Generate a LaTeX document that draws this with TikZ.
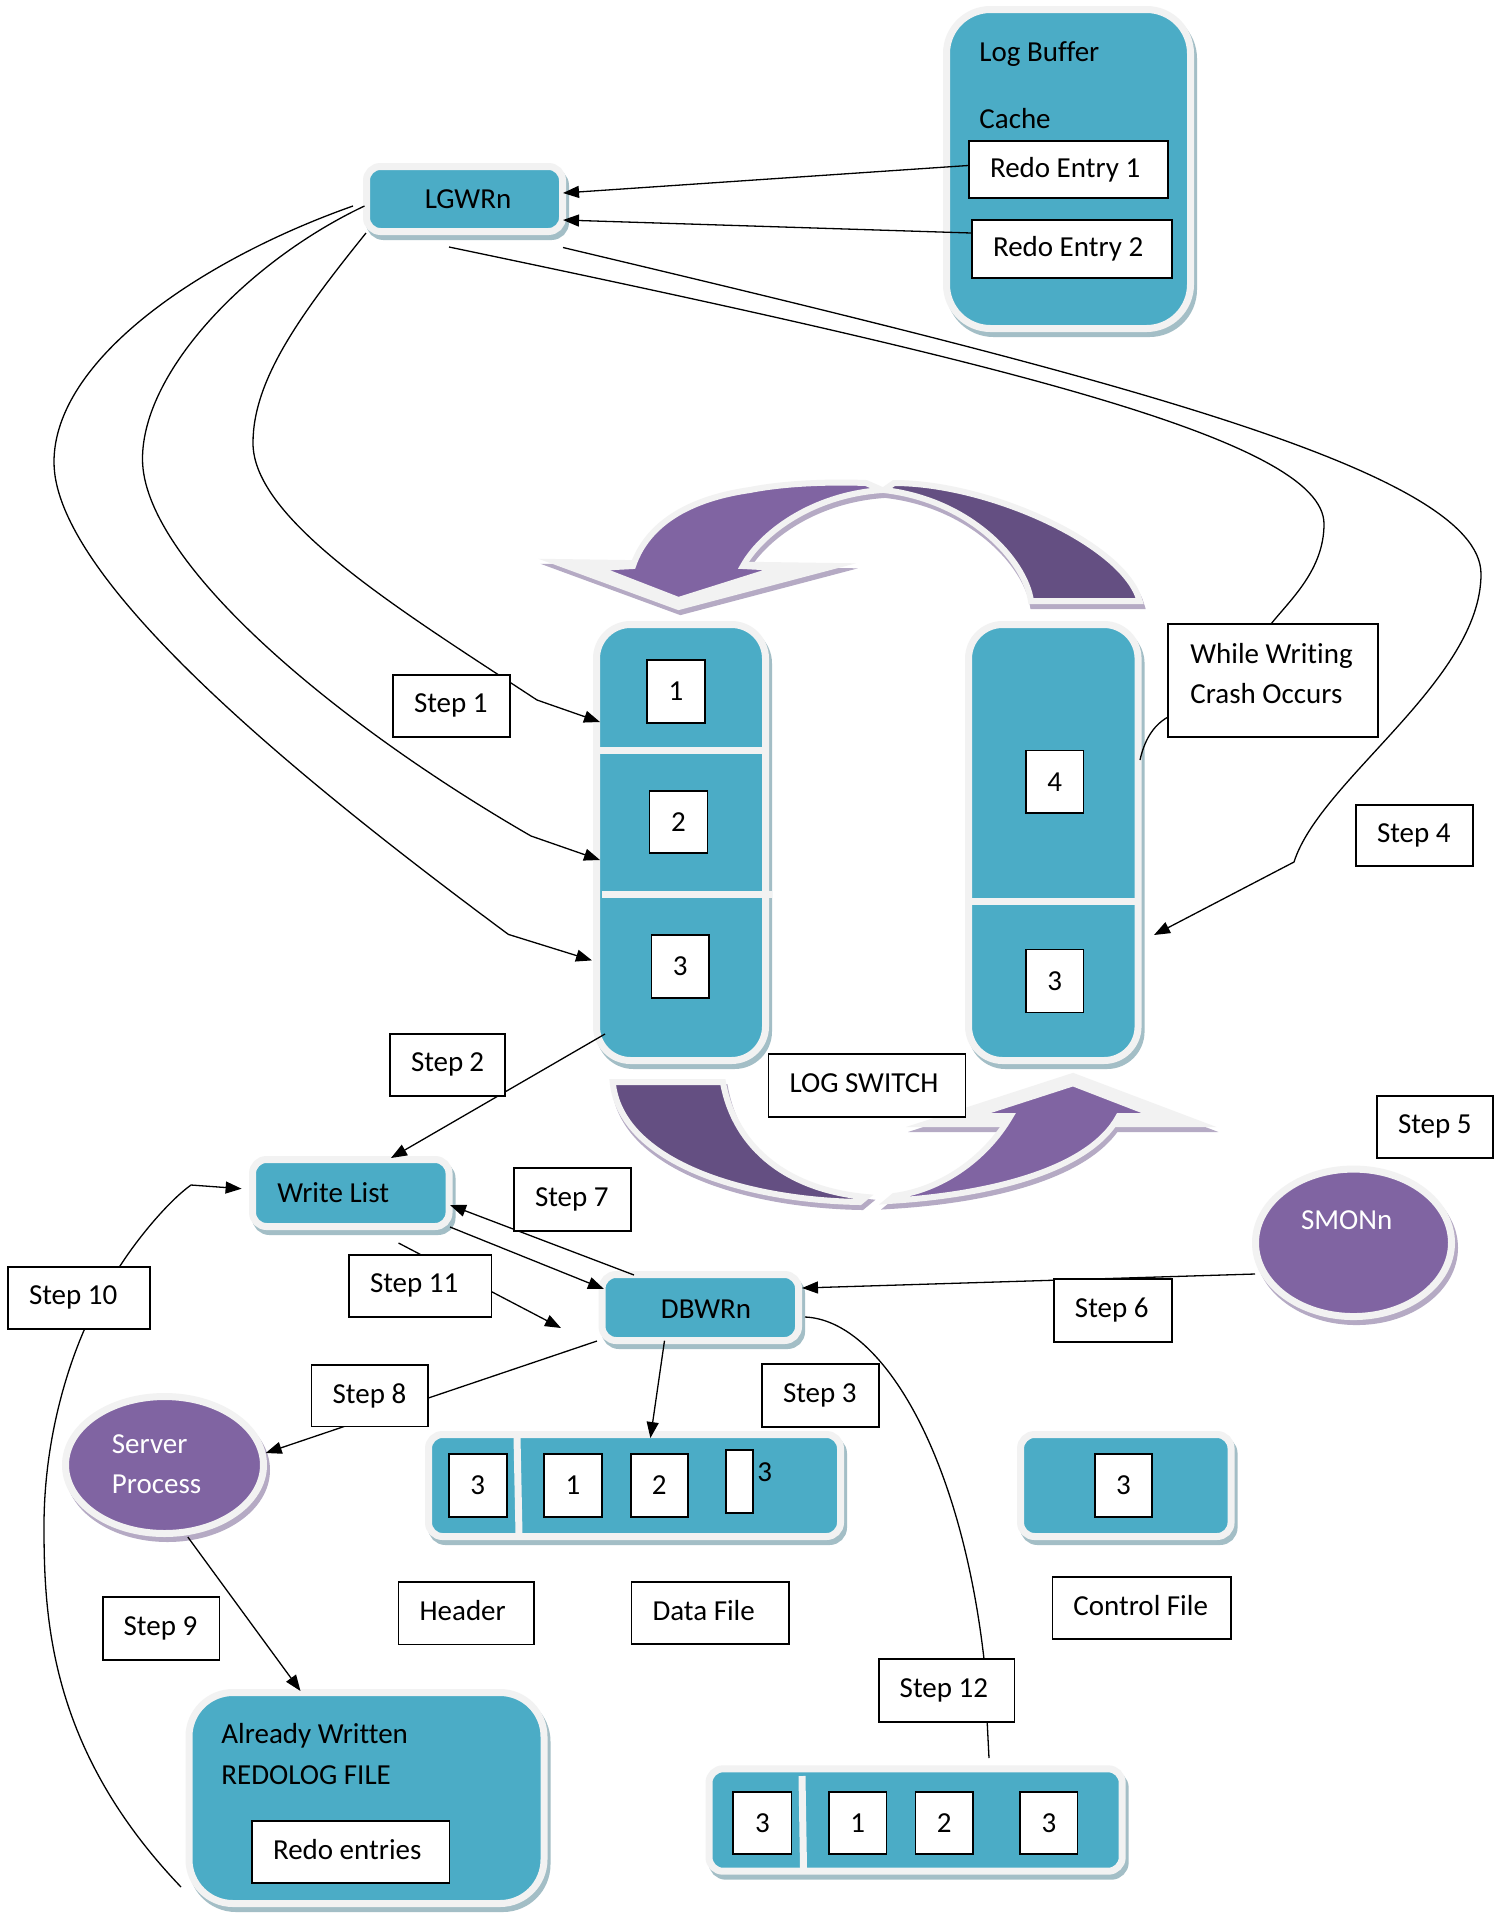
\documentclass[tikz,border=0pt]{standalone}
\usepackage{fontspec}
\setmainfont{Carlito}[Ligatures=NoCommon]
\usetikzlibrary{arrows.meta,shapes.geometric}
\definecolor{tealc}{HTML}{4BACC6}
\definecolor{lightb}{HTML}{F2F2F2}
\definecolor{purl}{HTML}{8064A2}
\definecolor{purd}{HTML}{644F82}
\definecolor{shadt}{HTML}{A3BEC6}
\definecolor{shadp}{HTML}{B5AAC4}
\newcommand\fs{\fontsize{14.5pt}{17pt}\selectfont}
\newcommand\lf[2]{\hbox to #1pt{\vphantom{Ag}#2\hfil}}
\begin{document}
\begin{tikzpicture}[x=0.5pt,y=-0.5pt, every node/.append style={font=\fs},
  lbl/.style={draw=black, line width=0.85pt, fill=white, inner xsep=10.5pt, inner ysep=0pt},
  numbox/.style={draw=black, line width=0.85pt, fill=white, inner sep=0pt},
  tealbox/.style={draw=lightb, line width=3.5pt, fill=tealc, inner sep=0pt,
    preaction={draw=shadt, fill=shadt, line width=3.5pt, transform canvas={shift={(1.5pt,-2.5pt)}}}},
  purpell/.style={ellipse, draw=lightb, line width=3.5pt, fill=purl, inner sep=0pt,
    preaction={draw=shadp, fill=shadp, line width=3.5pt, transform canvas={shift={(1.5pt,-2.5pt)}}}},
  pshadow/.style={draw=shadp, fill=shadp, line width=3pt, transform canvas={shift={(1pt,-2.5pt)}}},
  pbody/.style={draw=lightb, line width=3pt},
  arr/.style={line width=0.65pt, -{Triangle[length=8pt,width=6pt]}},
  conn/.style={line width=0.65pt},
  sep/.style={draw=lightb, line width=3.5pt},
  wtxt/.style={text=white, inner sep=0pt},
  plain/.style={inner sep=0pt},
  headTL/.style={insert path={(556,562) -- (834,566) -- (678.5,607) -- cycle}},
  arrTL/.style={insert path={(633,566) -- (596,568) -- (678.5,600) -- (780,568) -- (743,566)
    .. controls (760,535) and (810,495) .. (882,490) -- (866,483)
    .. controls (840,482) and (790,482) .. (750,490)
    .. controls (680,500) and (645,530) .. (633,566) -- cycle}},
  arrTR/.style={insert path={(884,490) -- (894,483)
    .. controls (990,483) and (1125,545) .. (1139.6,601) -- (1031,601)
    .. controls (1025,560) and (970,500) .. (884,490) -- cycle}},
  arrBL/.style={insert path={(612.7,1082) -- (722.9,1082)
    .. controls (735,1150) and (790,1190) .. (866,1197) -- (860,1202)
    .. controls (740,1200) and (620,1160) .. (612.7,1082) -- cycle}},
  headBR/.style={insert path={(925,1124) -- (1073,1076) -- (1200,1124) -- cycle}},
  arrBR/.style={insert path={(888,1201)
    .. controls (990,1195) and (1090,1170) .. (1118.8,1116) -- (1157.6,1116) -- (1073,1083.3)
    -- (971.8,1116) -- (1010.6,1116)
    .. controls (985,1160) and (940,1190) .. (894,1196) -- cycle}}
]
\useasboundingbox (0,0) rectangle (1502,1913);
\fill[white] (0,0) rectangle (1502,1913);

% ---------- purple switch arrows ----------
\path[pshadow, headTL];
\path[pshadow, arrTL];
\path[pshadow, arrTR];
\path[pshadow, arrBL];
\path[pshadow, headBR];
\path[pshadow, arrBR];
\path[pbody, fill=lightb, headTL];
\path[pbody, fill=purl, arrTL];
\path[pbody, fill=purd, arrTR];
\path[pbody, fill=purd, arrBL];
\path[pbody, fill=lightb, headBR];
\path[pbody, fill=purl, arrBR];

% ---------- teal shapes ----------
\node[tealbox, rounded corners=22pt, minimum width=122pt, minimum height=159.5pt] (logbuf) at (1068.5,169) {};
\node[plain, anchor=base west] (lbtxt) at (979,61.7) {Log Buffer};
\node[plain, anchor=base west] (cachetxt) at (979,128.3) {Cache};
\node[lbl, minimum height=28.5pt] (re1) at (1068.5,169.5) {\lf{78.5}{Redo Entry 1}};
\node[lbl, minimum height=29pt] (re2) at (1072,249) {\lf{79}{Redo Entry 2}};

\node[tealbox, rounded corners=7pt, minimum width=98pt, minimum height=32.5pt] (lgwr) at (464.5,199) {};
\node[plain] (lgtxt) at (468,199) {LGWRn};

\node[tealbox, rounded corners=17pt, minimum width=84.5pt, minimum height=218pt] (lcol) at (681,842.5) {};
\draw[sep] (600,750.5) -- (762,750.5);
\draw[sep] (602,894.5) -- (772,894.5);
\node[numbox, minimum width=29pt, minimum height=31.5pt] (l1) at (676,691.5) {1};
\node[numbox, minimum width=29pt, minimum height=31pt] (l2) at (678.5,822) {2};
\node[numbox, minimum width=28.7pt, minimum height=31.5pt] (l3) at (680.3,966.5) {3};

\node[tealbox, rounded corners=17pt, minimum width=84.75pt, minimum height=218pt] (rcol) at (1053.3,842.5) {};
\draw[sep] (972,901.5) -- (1134.6,901.5);
\node[numbox, minimum width=28.8pt, minimum height=31.1pt] (r4) at (1054.8,781.7) {4};
\node[numbox, minimum width=28.8pt, minimum height=31.5pt] (r3) at (1054.8,981.1) {3};

\node[tealbox, rounded corners=7pt, minimum width=98.25pt, minimum height=33.5pt] (wlist) at (350.8,1193) {};
\node[plain, anchor=base west] (wltxt) at (277,1202) {Write List};

\node[tealbox, rounded corners=7pt, minimum width=98.25pt, minimum height=33pt] (dbwr) at (700.3,1307.5) {};
\node[plain] (dbtxt) at (706,1309) {DBWRn};

\node[purpell, minimum width=99pt, minimum height=68.5pt] (server) at (164.5,1465) {};
\node[wtxt, anchor=base west] (srvtxt1) at (111.5,1453.9) {Server};
\node[wtxt, anchor=base west] (srvtxt2) at (111.5,1493.7) {Process};

\node[purpell, minimum width=98pt, minimum height=73.75pt] (smon) at (1353.5,1242.8) {};
\node[wtxt, anchor=base] (smtxt) at (1346.7,1229.3) {SMONn};

\node[tealbox, rounded corners=22pt, minimum width=177.5pt, minimum height=105.5pt] (already) at (366.5,1798) {};
\node[plain, anchor=base west] (aw1) at (221,1743.7) {Already Written};
\node[plain, anchor=base west] (aw2) at (221,1784.3) {REDOLOG FILE};
\node[lbl, minimum height=30.85pt] (redoent) at (350.8,1851.9) {\lf{77.8}{Redo entries}};

\node[tealbox, rounded corners=7pt, minimum width=206pt, minimum height=51pt] (drow) at (634.5,1485.5) {};
\draw[sep] (517,1437) -- (519,1534);
\node[numbox, minimum width=28.85pt, minimum height=31.35pt] (d3) at (477.8,1485.3) {3};
\node[numbox, minimum width=29pt, minimum height=31.35pt] (d1) at (573,1485.3) {1};
\node[numbox, minimum width=28.5pt, minimum height=31.35pt] (d2) at (659.2,1485.3) {2};
\node[numbox, minimum width=13.65pt, minimum height=31.35pt] (dn) at (739.4,1481.3) {};
\node[plain, anchor=base west] (dn3) at (757,1481) {3};

\node[tealbox, rounded corners=7pt, minimum width=105.25pt, minimum height=51pt] (crow) at (1125.8,1485.5) {};
\node[numbox, minimum width=28.5pt, minimum height=31.35pt] (c3) at (1123.5,1485.3) {3};

\node[tealbox, rounded corners=7pt, minimum width=206.6pt, minimum height=51.2pt] (brow) at (915.6,1820) {};
\draw[sep] (802,1776) -- (803.5,1868);
\node[numbox, minimum width=29.1pt, minimum height=31.3pt] (b3a) at (762.4,1823) {3};
\node[numbox, minimum width=28.85pt, minimum height=31.3pt] (b1) at (857.7,1823) {1};
\node[numbox, minimum width=28.6pt, minimum height=31.3pt] (b2) at (944.2,1823) {2};
\node[numbox, minimum width=28.6pt, minimum height=31.3pt] (b3b) at (1048.9,1823) {3};

% ---------- connector end points ----------
\coordinate (lgin1) at (563,193);
\coordinate (lgin2) at (563,220);
\coordinate (cA) at (353,206);
\coordinate (cB) at (364.5,206);
\coordinate (cC) at (366,233);
\coordinate (t1) at (600,722);
\coordinate (t2) at (600,860);
\coordinate (t3) at (592,960.4);
\coordinate (dS) at (449,247);
\coordinate (dE) at (1271,624);
\coordinate (eS) at (563,247.5);
\coordinate (eT) at (1154,935);
\coordinate (wwa) at (1168,717);
\coordinate (wwb) at (1140,760);
\coordinate (s2a) at (605,1034);
\coordinate (s2b) at (391,1158);
\coordinate (wlout) at (450,1227);
\coordinate (dbin) at (604,1289);
\coordinate (dbtop) at (634,1275);
\coordinate (wlin) at (450,1205);
\coordinate (wlbot) at (398.5,1243);
\coordinate (s11e) at (561,1328);
\coordinate (awleft) at (181,1887);
\coordinate (wlwest) at (241.6,1188.7);
\coordinate (dbsw) at (597,1341);
\coordinate (srvin) at (265.7,1453);
\coordinate (srvout) at (187.8,1537);
\coordinate (awtop) at (300.5,1691);
\coordinate (dbbot) at (664.5,1340.7);
\coordinate (drowtop) at (650.4,1438);
\coordinate (dbeast) at (805,1317);
\coordinate (browtop) at (989,1758);
\coordinate (smonw) at (1255,1274);
\coordinate (dbright) at (802,1288);

% ---------- connectors ----------
\draw[arr] ([yshift=2pt]re1.west) -- (lgin1);
\draw[arr] ([yshift=8pt]re2.west) -- (lgin2);
\draw[arr] (cC) .. controls (300,315) and (253,380) .. (253,443)
  .. controls (253,520) and (400,610) .. (537,700) -- (t1);
\draw[arr] (cB) .. controls (250,260) and (142.5,370) .. (142.5,459)
  .. controls (142.5,560) and (330,720) .. (531,836) -- (t2);
\draw[arr] (cA) .. controls (200,260) and (54,360) .. (54,462)
  .. controls (54,580) and (300,780) .. (508.4,934.4) -- (t3);
\draw[conn] (dS) .. controls (1000,362) and (1324,440) .. (1324,524)
  .. controls (1324,570) and (1290,600) .. (dE);
\draw[arr] (eS) .. controls (1100,375) and (1481,470) .. (1481,574)
  .. controls (1481,680) and (1320,780) .. (1294,862) -- (eT);
\draw[conn] (wwa) .. controls (1152,726) and (1144,742) .. (wwb);
\draw[arr] (s2a) -- (s2b);
\draw[arr] (wlout) -- (dbin);
\draw[arr] (dbtop) -- (wlin);
\draw[arr] (wlbot) -- (s11e);
\draw[arr] (awleft) .. controls (50,1750) and (44,1620) .. (44,1526)
  .. controls (44,1420) and (80,1320) .. (120,1266)
  .. controls (140,1235) and (170,1200) .. (191,1185) -- (wlwest);
\draw[arr] (dbsw) -- (srvin);
\draw[arr] (srvout) -- (awtop);
\draw[arr] (dbbot) -- (drowtop);
\draw[conn] (dbeast) .. controls (880,1320) and (960,1450) .. (984,1659) -- (browtop);
\draw[arr] (smonw) -- (dbright);

% ---------- label boxes ----------
\node[lbl, minimum width=105pt, minimum height=56.5pt] (ww) at (1273,680.5) {};
\node[plain, anchor=base west] (wwt1) at (1190,663) {While Writing};
\node[plain, anchor=base west] (wwt2) at (1190,703.3) {Crash Occurs};
\node[lbl, minimum height=31.35pt] (logsw) at (867,1085.4) {\lf{77.5}{LOG SWITCH}};
\node[lbl, minimum height=31pt] (step1) at (451.5,706) {\lf{37.5}{Step 1}};
\node[lbl, minimum height=31pt] (step2) at (447.5,1065) {\lf{36.5}{Step 2}};
\node[lbl, minimum height=31.35pt] (step3) at (820.5,1395.3) {\lf{37.5}{Step 3}};
\node[lbl, minimum height=30.5pt] (step4) at (1414.5,835.5) {\lf{37.5}{Step 4}};
\node[lbl, minimum height=31pt] (step5) at (1435,1127) {\lf{37}{Step 5}};
\node[lbl, minimum height=31.35pt] (step6) at (1112.8,1310.3) {\lf{37.85}{Step 6}};
\node[lbl, minimum height=31.5pt] (step7) at (572.5,1199.5) {\lf{37.5}{Step 7}};
\node[lbl, minimum height=30.8pt] (step8) at (369.8,1395.8) {\lf{37.2}{Step 8}};
\node[lbl, minimum height=31.5pt] (step9) at (161,1628.5) {\lf{37.35}{Step 9}};
\node[lbl, minimum height=31.15pt] (step10) at (79,1298) {\lf{50}{Step 10}};
\node[lbl, minimum height=31pt] (step11) at (420.3,1286) {\lf{50.3}{Step 11}};
\node[lbl, minimum height=31.5pt] (step12) at (946.6,1690.5) {\lf{46.9}{Step 12}};
\node[lbl, minimum height=31.3pt] (header) at (466.2,1613.3) {\lf{46.6}{Header}};
\node[lbl, minimum height=31.3pt] (datafile) at (710.4,1613) {\lf{57.9}{Data File}};
\node[lbl, minimum height=31.15pt] (ctrlfile) at (1141.7,1607.9) {\lf{68.3}{Control File}};
\end{tikzpicture}
\end{document}
